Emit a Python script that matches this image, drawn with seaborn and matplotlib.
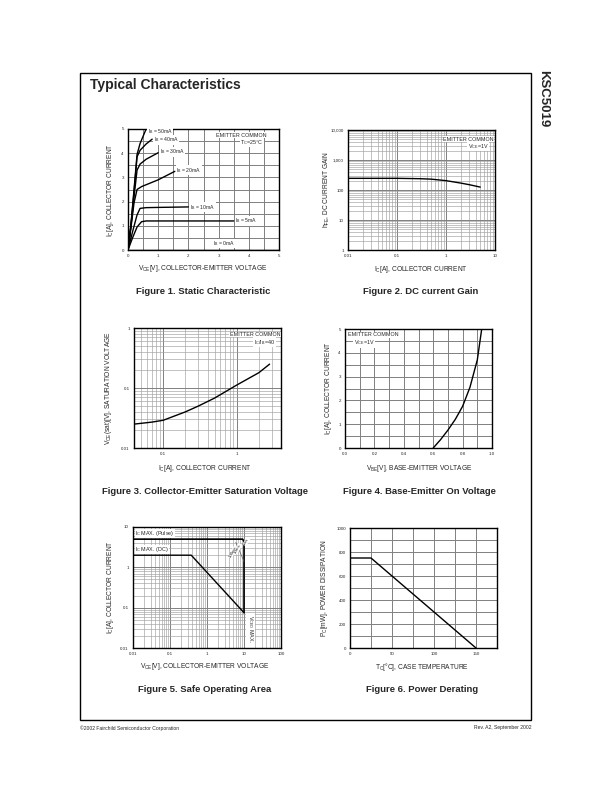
import numpy as np
import pandas as pd
import matplotlib
matplotlib.use("Agg")
import matplotlib.pyplot as plt
import matplotlib.patches as mpatches
from matplotlib.ticker import FixedLocator, NullFormatter, MultipleLocator, FixedFormatter
import seaborn as sns

# ---------------- data ----------------
# Fig 1: static characteristic (IB curves)
ib_labels = ["50mA", "40mA", "30mA", "20mA", "10mA", "5mA"]
ib50_v = [0, 0.1, 0.2, 0.3, 0.4, 0.5, 0.6]
ib50_i = [0, 1.1, 2.5, 3.95, 4.4, 4.7, 5.0]
ib40_v = [0, 0.1, 0.2, 0.3, 0.4, 0.6, 0.8]
ib40_i = [0, 1.05, 2.4, 3.85, 4.12, 4.38, 4.58]
ib30_v = [0, 0.1, 0.2, 0.3, 0.4, 0.6, 1.0]
ib30_i = [0, 1.0, 2.2, 3.3, 3.55, 3.75, 4.02]
ib20_v = [0, 0.1, 0.2, 0.3, 0.45, 1.0, 1.55]
ib20_i = [0, 0.95, 1.95, 2.5, 2.62, 2.9, 3.25]
ib10_v = [0, 0.15, 0.3, 0.4, 0.6, 1.0, 2.0]
ib10_i = [0, 0.75, 1.45, 1.72, 1.75, 1.76, 1.78]
ib5_v = [0, 0.15, 0.3, 0.45, 0.6, 3.5]
ib5_i = [0, 0.5, 0.95, 1.17, 1.2, 1.2]

# Fig 2: DC current gain
hfe_ic = [0.01, 0.03, 0.1, 0.3, 0.5, 1, 2, 3, 5]
hfe_val = [245, 245, 245, 238, 230, 205, 170, 150, 125]

# Fig 3: VCE(sat)
sat_ic = [0.04, 0.07, 0.1, 0.2, 0.3, 0.5, 1, 2, 2.8]
sat_v = [0.025, 0.027, 0.029, 0.040, 0.050, 0.068, 0.112, 0.18, 0.25]

# Fig 4: base-emitter on voltage
vbe_v = [0.6, 0.65, 0.7, 0.75, 0.8, 0.85, 0.9, 0.93]
vbe_ic = [0, 0.35, 0.75, 1.2, 1.75, 2.55, 3.7, 5.0]

# Fig 5: SOA
soa_dc_v = [0.01, 0.375, 10]
soa_dc_i = [2, 2, 0.075]
soa_pulse_v = [0.01, 9.2, 10, 10]
soa_pulse_i = [5, 5, 4.4, 0.075]

# Fig 6: power derating
pd_t = [0, 25, 150]
pd_p = [750, 750, 0]

# ---------------- style ----------------
sns.set_style("white")
plt.rcParams['font.family'] = ['Liberation Sans', 'DejaVu Sans']
plt.rcParams['mathtext.default'] = 'regular'

W, H = 612, 792
fig = plt.figure(figsize=(W / 100, H / 100), dpi=100)


def fx(x):
    return x / W


def fy(y):
    return 1 - y / H


def make_ax(x0, y0, x1, y1):
    ax = fig.add_axes([fx(x0), fy(y1), fx(x1 - x0), (y1 - y0) / H])
    for s in ax.spines.values():
        s.set_color("black")
        s.set_linewidth(1.0)
    ax.tick_params(axis="both", which="major", labelsize=3.2, length=1.5,
                   width=0.5, pad=1.5, direction="out", color="black")
    ax.tick_params(axis="both", which="minor", length=0)
    return ax


GRID_MAJ = dict(color="#808080", linewidth=0.7)
GRID_MIN = dict(color="#a0a0a0", linewidth=0.45)
LINE = dict(color="black", linewidth=1.0)
WB = dict(facecolor="white", edgecolor="none", pad=0.3)


def lin_grid(ax, xs, ys):
    ax.xaxis.set_minor_locator(MultipleLocator(xs))
    ax.yaxis.set_minor_locator(MultipleLocator(ys))
    ax.grid(True, which="both", **GRID_MAJ)
    ax.set_axisbelow(True)


def log_grid(ax):
    ax.grid(True, which="major", **GRID_MAJ)
    ax.grid(True, which="minor", **GRID_MIN)
    ax.xaxis.set_minor_formatter(NullFormatter())
    ax.yaxis.set_minor_formatter(NullFormatter())
    ax.set_axisbelow(True)


def label_x(text, cx, cy):
    fig.text(fx(cx), fy(cy), text, ha="center", va="center", fontsize=4.8)


def label_y(text, cx, cy):
    fig.text(fx(cx), fy(cy), text, ha="center", va="center", fontsize=4.8, rotation=90)


def caption(text, cx, cy):
    fig.text(fx(cx), fy(cy), text, ha="center", va="center", fontsize=6.8, fontweight="bold")


# ---------------- Figure 1 ----------------
ax1 = make_ax(128, 129, 279, 250)
ax1.set_xlim(0, 5)
ax1.set_ylim(0, 5)
ax1.xaxis.set_major_locator(FixedLocator([0, 1, 2, 3, 4, 5]))
ax1.yaxis.set_major_locator(FixedLocator([0, 1, 2, 3, 4, 5]))
lin_grid(ax1, 0.5, 0.5)
curves1 = [(ib50_v, ib50_i), (ib40_v, ib40_i), (ib30_v, ib30_i),
           (ib20_v, ib20_i), (ib10_v, ib10_i), (ib5_v, ib5_i)]
for (vv, ii) in curves1:
    sns.lineplot(x=vv, y=ii, ax=ax1, sort=False, estimator=None, **LINE)
ax1.plot([0, 5], [0, 0], color="black", linewidth=1.0)
lab_pos1 = [(0.65, 4.9), (0.85, 4.55), (1.05, 4.05), (1.6, 3.3), (2.05, 1.77), (3.55, 1.2)]
for lab, (lx, ly) in zip(ib_labels, lab_pos1):
    ax1.text(lx, ly, r"I$_B$ = " + lab, ha="left", va="center", fontsize=3.7, bbox=WB)
ax1.text(2.8, 0.27, r"I$_B$ = 0mA", ha="left", va="center", fontsize=3.7, bbox=WB)
ax1.text(4.6, 4.75, "EMITTER COMMON", ha="right", va="center", fontsize=3.9, bbox=WB)
ax1.text(4.1, 4.45, r"T$_C$=25°C", ha="center", va="center", fontsize=3.9, bbox=WB)
label_x(r"V$_{CE}$[V], COLLECTOR-EMITTER VOLTAGE", 203, 269)
label_y(r"I$_C$[A], COLLECTOR CURRENT", 111, 190)
caption("Figure 1. Static Characteristic", 203, 291)

# ---------------- Figure 2 ----------------
ax2 = make_ax(348, 130, 495, 250)
ax2.set_xscale("log")
ax2.set_yscale("log")
ax2.set_xlim(0.01, 10)
ax2.set_ylim(1, 10000)
ax2.xaxis.set_major_locator(FixedLocator([0.01, 0.1, 1, 10]))
ax2.xaxis.set_major_formatter(FixedFormatter(["0.01", "0.1", "1", "10"]))
ax2.yaxis.set_major_locator(FixedLocator([1, 10, 100, 1000, 10000]))
ax2.yaxis.set_major_formatter(FixedFormatter(["1", "10", "100", "1,000", "10,000"]))
log_grid(ax2)
sns.lineplot(x=hfe_ic, y=hfe_val, ax=ax2, sort=False, estimator=None, **LINE)
ax2.text(9.5, 5000, "EMITTER COMMON", ha="right", va="center", fontsize=3.9, bbox=WB)
ax2.text(4.5, 2900, r"V$_{CE}$=1V", ha="center", va="center", fontsize=3.9, bbox=WB)
label_x(r"I$_C$[A], COLLECTOR CURRENT", 421, 270)
label_y(r"h$_{FE}$, DC CURRENT GAIN", 327, 190)
caption("Figure 2. DC current Gain", 421, 291)

# ---------------- Figure 3 ----------------
ax3 = make_ax(134, 328, 281, 448)
ax3.set_xscale("log")
ax3.set_yscale("log")
ax3.set_xlim(0.04, 4)
ax3.set_ylim(0.01, 1)
ax3.xaxis.set_major_locator(FixedLocator([0.1, 1]))
ax3.xaxis.set_major_formatter(FixedFormatter(["0.1", "1"]))
ax3.yaxis.set_major_locator(FixedLocator([0.01, 0.1, 1]))
ax3.yaxis.set_major_formatter(FixedFormatter(["0.01", "0.1", "1"]))
log_grid(ax3)
sns.lineplot(x=sat_ic, y=sat_v, ax=ax3, sort=False, estimator=None, **LINE)
ax3.text(3.9, 0.78, "EMITTER COMMON", ha="right", va="center", fontsize=3.9, bbox=WB)
ax3.text(2.4, 0.58, r"I$_C$/I$_B$=40", ha="center", va="center", fontsize=3.9,
         bbox=dict(facecolor="white", edgecolor="none", pad=0.6))
label_x(r"I$_C$[A], COLLECTOR CURRENT", 205, 469)
label_y(r"V$_{CE}$(sat)[V], SATURATION VOLTAGE", 108, 388)
caption("Figure 3. Collector-Emitter Saturation Voltage", 205, 491)

# ---------------- Figure 4 ----------------
ax4 = make_ax(345, 329, 492, 448)
ax4.set_xlim(0, 1.0)
ax4.set_ylim(0, 5)
ax4.xaxis.set_major_locator(FixedLocator([0, 0.2, 0.4, 0.6, 0.8, 1.0]))
ax4.xaxis.set_major_formatter(FixedFormatter(["0.0", "0.2", "0.4", "0.6", "0.8", "1.0"]))
ax4.yaxis.set_major_locator(FixedLocator([0, 1, 2, 3, 4, 5]))
lin_grid(ax4, 0.1, 0.5)
sns.lineplot(x=vbe_v, y=vbe_ic, ax=ax4, sort=False, estimator=None, **LINE)
ax4.text(0.02, 4.75, "EMITTER COMMON", ha="left", va="center", fontsize=3.9, bbox=WB)
ax4.text(0.13, 4.42, r"V$_{CE}$=1V", ha="center", va="center", fontsize=3.9, bbox=WB)
label_x(r"V$_{BE}$[V], BASE-EMITTER VOLTAGE", 419, 469)
label_y(r"I$_C$[A], COLLECTOR CURRENT", 328, 388)
caption("Figure 4. Base-Emitter On Voltage", 419, 491)

# ---------------- Figure 5 ----------------
ax5 = make_ax(133, 527, 281, 648)
ax5.set_xscale("log")
ax5.set_yscale("log")
ax5.set_xlim(0.01, 100)
ax5.set_ylim(0.01, 10)
ax5.xaxis.set_major_locator(FixedLocator([0.01, 0.1, 1, 10, 100]))
ax5.xaxis.set_major_formatter(FixedFormatter(["0.01", "0.1", "1", "10", "100"]))
ax5.yaxis.set_major_locator(FixedLocator([0.01, 0.1, 1, 10]))
ax5.yaxis.set_major_formatter(FixedFormatter(["0.01", "0.1", "1", "10"]))
log_grid(ax5)
sns.lineplot(x=soa_dc_v, y=soa_dc_i, ax=ax5, sort=False, estimator=None, **LINE)
sns.lineplot(x=soa_pulse_v, y=soa_pulse_i, ax=ax5, sort=False, estimator=None,
             color="black", linewidth=1.2)
ax5.plot([6.0, 10], [4.2, 1.4], color="#606060", linewidth=0.5)
ax5.text(0.0115, 6.9, r"I$_C$ MAX. (Pulse)", ha="left", va="center", fontsize=3.9,
         bbox=dict(facecolor="white", edgecolor="none", pad=0.1))
ax5.text(0.0115, 2.8, r"I$_C$ MAX. (DC)", ha="left", va="center", fontsize=3.9,
         bbox=dict(facecolor="white", edgecolor="none", pad=0.1))
for (tx, ty, tt) in [(5.0, 2.4, "100ms"), (6.8, 2.9, "10ms"), (11.5, 4.3, "1ms")]:
    ax5.text(tx, ty, tt, ha="center", va="center", fontsize=3.2, rotation=60,
             bbox=dict(facecolor="white", edgecolor="none", pad=0.1))
ax5.text(15, 0.03, r"V$_{CEO}$ MAX.", ha="center", va="center", fontsize=3.9, rotation=270,
         bbox=WB)
label_x(r"V$_{CE}$[V], COLLECTOR-EMITTER VOLTAGE", 205, 667)
label_y(r"I$_C$[A], COLLECTOR CURRENT", 111, 587)
caption("Figure 5. Safe Operating Area", 205, 690)

# ---------------- Figure 6 ----------------
ax6 = make_ax(350, 528, 497, 648)
ax6.set_xlim(0, 175)
ax6.set_ylim(0, 1000)
ax6.xaxis.set_major_locator(FixedLocator([0, 50, 100, 150]))
ax6.yaxis.set_major_locator(FixedLocator([0, 200, 400, 600, 800, 1000]))
lin_grid(ax6, 25, 100)
sns.lineplot(x=pd_t, y=pd_p, ax=ax6, sort=False, estimator=None, **LINE)
label_x(r"T$_C$[°C], CASE TEMPERATURE", 422, 667)
label_y(r"P$_C$[mW], POWER DISSIPATION", 325, 588)
caption("Figure 6. Power Derating", 422, 690)

# ---------------- page decorations ----------------
frame = mpatches.Rectangle((fx(80), fy(720)), fx(531 - 80), (720 - 73) / H,
                           transform=fig.transFigure, fill=False,
                           edgecolor="black", linewidth=1.0)
fig.add_artist(frame)
fig.text(fx(90), fy(85), "Typical Characteristics", ha="left", va="center",
         fontsize=10.0, fontweight="bold")
fig.text(fx(543), fy(70), "KSC5019", ha="center", va="top", fontsize=9.5,
         fontweight="bold", rotation=270)
fig.text(fx(80), fy(728), "©2002 Fairchild Semiconductor Corporation", ha="left",
         va="center", fontsize=3.6)
fig.text(fx(531), fy(728), "Rev. A2, September 2002", ha="right", va="center", fontsize=3.6)

fig.savefig("out.png", dpi=100, facecolor="white")
